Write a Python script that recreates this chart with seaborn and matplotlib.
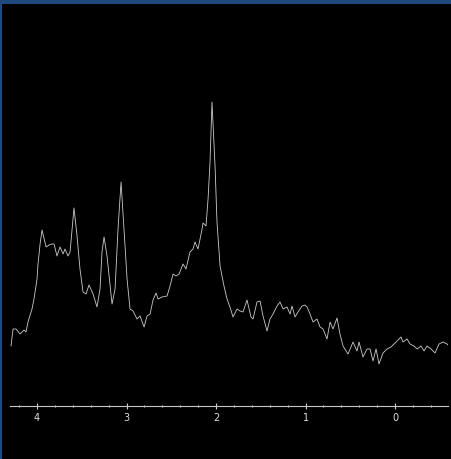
import matplotlib
matplotlib.use("Agg")
import matplotlib.pyplot as plt
from matplotlib.ticker import MultipleLocator
import pandas as pd
import seaborn as sns

# chemical shift (ppm) and signal intensity
ppm = [4.291, 4.268, 4.235, 4.190, 4.145, 4.123, 4.101, 4.056, 4.034, 4.000,
       3.989, 3.966, 3.944, 3.899, 3.866, 3.832, 3.810, 3.777, 3.743, 3.709,
       3.687, 3.654, 3.631, 3.587, 3.553, 3.520, 3.486, 3.453, 3.419, 3.374,
       3.330, 3.296, 3.274, 3.251, 3.218, 3.162, 3.128, 3.095, 3.061, 3.028,
       2.994, 2.961, 2.927, 2.883, 2.849, 2.804, 2.771, 2.737, 2.704, 2.670,
       2.648, 2.603, 2.547, 2.514, 2.480, 2.447, 2.413, 2.369, 2.335, 2.291,
       2.257, 2.235, 2.201, 2.156, 2.145, 2.112, 2.089, 2.067, 2.045, 2.034,
       2.011, 1.989, 1.955, 1.911, 1.877, 1.844, 1.810, 1.765, 1.732, 1.698,
       1.654, 1.609, 1.587, 1.542, 1.508, 1.475, 1.430, 1.397, 1.363, 1.318,
       1.285, 1.251, 1.207, 1.173, 1.151, 1.117, 1.084, 1.039, 1.006, 0.983,
       0.950, 0.916, 0.872, 0.838, 0.804, 0.760, 0.726, 0.693, 0.648, 0.615,
       0.581, 0.525, 0.469, 0.425, 0.402, 0.358, 0.313, 0.279, 0.246, 0.212,
       0.179, 0.134, 0.089, 0.045, 0.011, -0.022, -0.067, -0.089, -0.134, -0.168,
       -0.212, -0.246, -0.291, -0.324, -0.358, -0.402, -0.447, -0.492, -0.536, -0.581,
       -0.603]
intensity = [60, 77, 77, 72, 76, 74, 84, 97, 107, 127,
             142, 162, 176, 159, 161, 162, 162, 150, 159, 152,
             157, 150, 154, 198, 170, 137, 114, 112, 121, 112,
             99, 117, 154, 169, 150, 102, 117, 177, 224, 177,
             127, 97, 95, 87, 90, 79, 90, 92, 106, 113,
             107, 109, 110, 120, 132, 130, 132, 142, 137, 154,
             157, 164, 157, 177, 183, 180, 207, 244, 304, 284,
             240, 184, 140, 120, 107, 99, 89, 97, 95, 94,
             106, 89, 87, 104, 105, 90, 75, 87, 92, 100,
             104, 97, 99, 92, 100, 89, 94, 100, 101, 99,
             92, 84, 87, 79, 77, 67, 84, 77, 88, 72,
             60, 52, 64, 55, 64, 49, 57, 57, 45, 57,
             42, 53, 57, 59, 62, 65, 69, 64, 67, 62,
             60, 57, 60, 55, 60, 57, 53, 62, 64, 62,
             60]
major_ticks = [4, 3, 2, 1, 0]

df = pd.DataFrame({"ppm": ppm, "intensity": intensity})

sns.set_style("dark")
plt.rcParams["font.family"] = ["DejaVu Sans"]

W, H = 452, 460
fig = plt.figure(figsize=(W / 100, H / 100), dpi=100, facecolor="#1f4a80")

# black panel inside the blue frame
bg = fig.add_axes([2 / W, 0, 450 / W, 455 / H])
bg.set_facecolor("black")
bg.set_xticks([])
bg.set_yticks([])
for s in bg.spines.values():
    s.set_visible(False)

# spectrum axes, bottom spine is the ppm scale
ax = fig.add_axes([10 / W, 53 / H, 438 / W, 402 / H])
ax.patch.set_alpha(0)
sns.lineplot(data=df, x="ppm", y="intensity", ax=ax, color="#cccccc",
             linewidth=0.6, estimator=None, sort=False)
ax.set_xlim(4.302, -0.592)
ax.set_ylim(0, 402)

ax.set_xticks(major_ticks)
ax.set_xticklabels([str(t) for t in major_ticks])
ax.xaxis.set_minor_locator(MultipleLocator(0.2))
ax.tick_params(axis="x", which="major", direction="inout", length=5, width=0.8,
               color="#d0d0d0", labelcolor="#e0e0e0", labelsize=7, pad=1.5, bottom=True)
ax.tick_params(axis="x", which="minor", direction="inout", length=2, width=0.8,
               color="#d0d0d0", bottom=True)
ax.set_yticks([])
ax.set_xlabel("")
ax.set_ylabel("")
ax.grid(False)
for name, s in ax.spines.items():
    s.set_visible(name == "bottom")
ax.spines["bottom"].set_color("#c8c8c8")
ax.spines["bottom"].set_linewidth(0.8)

fig.savefig("out.png", dpi=100, facecolor=fig.get_facecolor())
